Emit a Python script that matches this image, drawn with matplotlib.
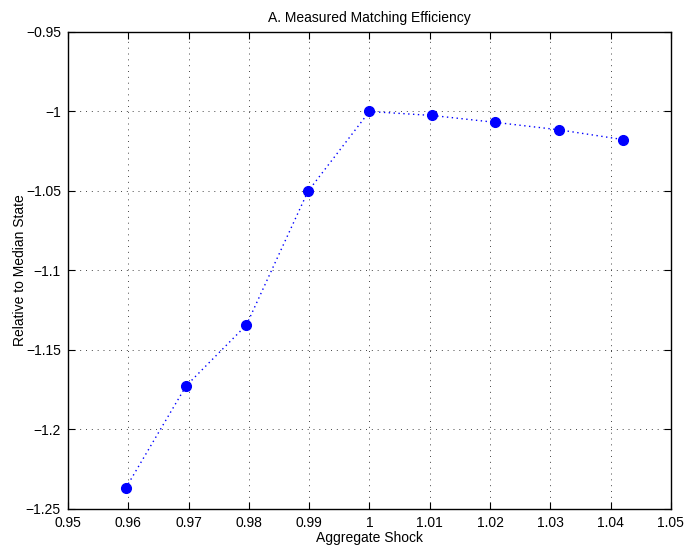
import matplotlib
matplotlib.use("Agg")
import matplotlib.pyplot as plt

shock = [0.9596, 0.9696, 0.9796, 0.9898, 1.0, 1.0104, 1.0208, 1.0314, 1.0421]
efficiency = [-1.2368, -1.1726, -1.1343, -1.0503, -1.0, -1.0025, -1.0068, -1.0115, -1.0177]
xticks = [0.95, 0.96, 0.97, 0.98, 0.99, 1.0, 1.01, 1.02, 1.03, 1.04, 1.05]
xticklabels = ["0.95", "0.96", "0.97", "0.98", "0.99", "1", "1.01", "1.02", "1.03", "1.04", "1.05"]
yticks = [-1.25, -1.2, -1.15, -1.1, -1.05, -1.0, -0.95]
yticklabels = ["\u22121.25", "\u22121.2", "\u22121.15", "\u22121.1", "\u22121.05", "\u22121", "\u22120.95"]

plt.rcParams['font.family'] = ['Liberation Sans', 'DejaVu Sans']
fig = plt.figure(figsize=(6.86, 5.46), dpi=100)
ax = fig.add_axes([0.099, 0.0678, 0.879, 0.8736])
ax.plot(shock, efficiency, linestyle=(0, (1, 2.5)), color='blue', linewidth=1.0,
        marker='o', markersize=7, markerfacecolor='blue', markeredgecolor='blue')
ax.set_xlim(0.95, 1.05)
ax.set_ylim(-1.25, -0.95)
ax.set_xticks(xticks)
ax.set_xticklabels(xticklabels)
ax.set_yticks(yticks)
ax.set_yticklabels(yticklabels)
ax.grid(True, linestyle=(0, (1, 5)), color='#444444', linewidth=0.7)
ax.tick_params(direction='in', top=True, right=True, labelsize=10, length=5, width=0.8, pad=5)
for s in ax.spines.values():
    s.set_linewidth(1.0)
ax.set_title("A. Measured Matching Efficiency", fontsize=10, pad=7)
ax.set_xlabel("Aggregate Shock", fontsize=10, labelpad=1)
ax.set_ylabel("Relative to Median State", fontsize=10, labelpad=-1)
fig.savefig("out.png", dpi=100)
